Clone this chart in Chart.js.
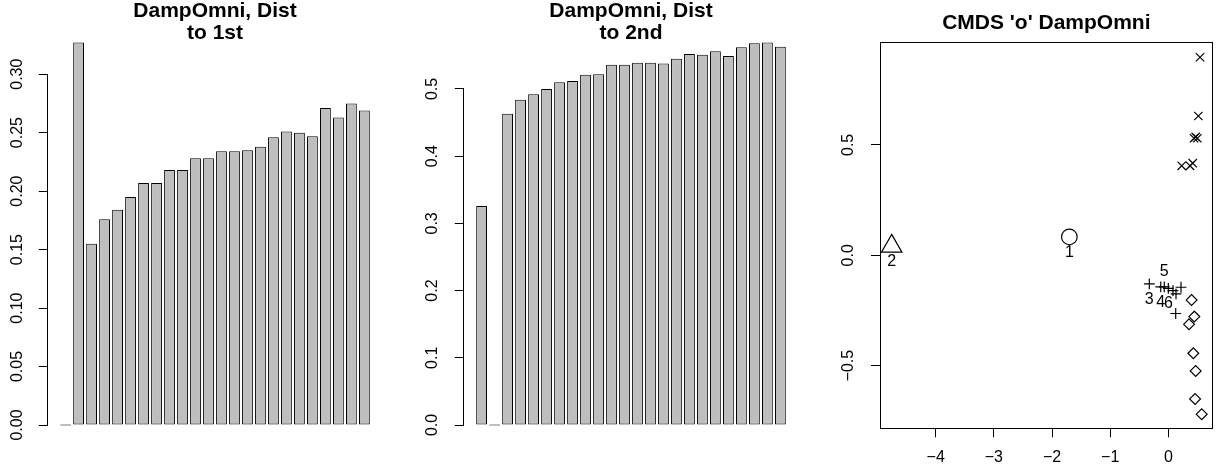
<!DOCTYPE html>
<html><head><meta charset="utf-8">
<script src="https://cdn.jsdelivr.net/npm/chart.js@4/dist/chart.umd.min.js"></script>
<style>
html,body{margin:0;padding:0;background:#fff;width:1217px;height:471px;overflow:hidden;}
canvas{position:absolute;top:0;}
</style></head><body>
<canvas id="c1" width="406" height="471" style="left:0px"></canvas>
<canvas id="c2" width="406" height="471" style="left:406px"></canvas>
<canvas id="c3" width="405" height="471" style="left:812px"></canvas>
<script>
const FONT = '"Liberation Sans", Arial, Helvetica, sans-serif';

// ---- titles ----
const title1 = ['DampOmni, Dist', 'to 1st'];
const title2 = ['DampOmni, Dist', 'to 2nd'];
const title3 = "CMDS 'o' DampOmni";

// ---- bar data ----
const distTo1st = [0, 0.327, 0.155, 0.176, 0.184, 0.195, 0.207, 0.207, 0.218, 0.218, 0.228, 0.228,
                   0.234, 0.234, 0.235, 0.238, 0.246, 0.251, 0.250, 0.247, 0.271, 0.263, 0.275, 0.269];
const distTo2nd = [0.326, 0, 0.463, 0.484, 0.492, 0.500, 0.510, 0.512, 0.521, 0.522, 0.536, 0.536,
                   0.539, 0.539, 0.538, 0.545, 0.552, 0.551, 0.556, 0.549, 0.562, 0.568, 0.569, 0.563];

// ---- tick values / labels ----
const ticks1 = [0, 0.05, 0.10, 0.15, 0.20, 0.25, 0.30];
const tickLabels1 = ['0.00', '0.05', '0.10', '0.15', '0.20', '0.25', '0.30'];
const ticks2 = [0, 0.1, 0.2, 0.3, 0.4, 0.5];
const tickLabels2 = ['0.0', '0.1', '0.2', '0.3', '0.4', '0.5'];
const cmdsXTicks = [-4, -3, -2, -1, 0];
const cmdsXTickLabels = ['\u22124', '\u22123', '\u22122', '\u22121', '0'];
const cmdsYTicks = [-0.5, 0, 0.5];
const cmdsYTickLabels = ['\u22120.5', '0.0', '0.5'];

// ---- CMDS scatter data ----
const cmdsX = [-1.702, -4.757, -0.327, -0.130, -0.070, 0.000, 0.080, 0.132, 0.218, 0.127,
               0.545, 0.516, 0.442, 0.470, 0.499, 0.230, 0.373, 0.420,
               0.400, 0.447, 0.356, 0.430, 0.470, 0.460, 0.574];
const cmdsY = [0.083, 0.041, -0.130, -0.143, -0.143, -0.150, -0.160, -0.175, -0.145, -0.264,
               0.897, 0.631, 0.530, 0.536, 0.530, 0.405, 0.405, 0.417,
               -0.203, -0.278, -0.313, -0.444, -0.524, -0.651, -0.720];
const cmdsGroup = [0, 1, 2, 2, 2, 2, 2, 2, 2, 2,
                   3, 3, 3, 3, 3, 3, 3, 3,
                   4, 4, 4, 4, 4, 4, 4];
const cmdsLabels = ['1', '2', '3', '4', '5', '6'];
const cmdsLabelPos = ['below', 'below', 'below', 'below', 'above', 'below'];

// ---- styles ----
const groupStyle = [
  {pointStyle: 'circle', radius: 7.8},
  {pointStyle: 'triangle', radius: 11.8},
  {pointStyle: 'cross', radius: 5.4},
  {pointStyle: 'crossRot', radius: 5.9},
  {pointStyle: 'rectRot', radius: 5.4}
];

function alignPx(p) { return Math.round(p - 0.5) + 0.5; }

const rAxesPlugin = {
  id: 'rAxes',
  afterDraw(chart, args, opts) {
    const ctx = chart.ctx, a = chart.chartArea;
    ctx.save();
    ctx.strokeStyle = '#000';
    ctx.lineWidth = 1;
    if (opts.mode === 'yline') {
      const ys = chart.scales.y, t = ys.ticks;
      const x = alignPx(a.left);
      ctx.beginPath();
      ctx.moveTo(x, alignPx(ys.getPixelForValue(t[0].value)) + 0.5);
      ctx.lineTo(x, alignPx(ys.getPixelForValue(t[t.length - 1].value)) - 0.5);
      ctx.stroke();
    } else if (opts.mode === 'box') {
      const l = alignPx(a.left), r = alignPx(a.right), t = alignPx(a.top), b = alignPx(a.bottom);
      ctx.strokeRect(l, t, r - l, b - t);
    }
    ctx.restore();
  }
};

const pointLabelPlugin = {
  id: 'pointLabels',
  afterDatasetsDraw(chart) {
    const ctx = chart.ctx, xs = chart.scales.x, ys = chart.scales.y;
    ctx.save();
    ctx.font = '16px ' + FONT;
    ctx.fillStyle = '#000';
    ctx.textAlign = 'center';
    ctx.textBaseline = 'middle';
    cmdsLabels.forEach((lab, i) => {
      const px = xs.getPixelForValue(cmdsX[i]);
      const py = ys.getPixelForValue(cmdsY[i]);
      const dy = cmdsLabelPos[i] === 'above' ? -15.5 : 15.5;
      ctx.fillText(lab, px, py + dy);
    });
    ctx.restore();
  }
};

function tickFont() { return {family: FONT, size: 16}; }
const titleFont = {family: FONT, size: 21, weight: 'bold', lineHeight: 22 / 21};

function barChart(canvasId, values, title, tickVals, tickLabels, yAxisWidth, rightPad, labelPad) {
  const n = values.length;
  const ext = 0.04 * (1.2 * n - 0.2);
  const xmin = (0.2 - ext - 0.7) / 1.2;
  const xmax = (1.2 * n + ext - 0.7) / 1.2;
  const vmax = Math.max(...values);
  return new Chart(document.getElementById(canvasId), {
    type: 'bar',
    data: {
      datasets: [{
        data: values.map((v, i) => ({x: i, y: v})),
        backgroundColor: '#BEBEBE',
        borderColor: '#000000',
        borderWidth: 1,
        borderSkipped: false,
        minBarLength: 1,
        barPercentage: 1 / 1.2,
        categoryPercentage: 1
      }]
    },
    options: {
      responsive: false,
      maintainAspectRatio: false,
      animation: false,
      events: [],
      devicePixelRatio: 1,
      layout: {autoPadding: false, padding: {left: 0, right: rightPad, top: 0, bottom: 30.7}},
      plugins: {
        legend: {display: false},
        tooltip: {enabled: false},
        title: {
          display: true, text: title, color: '#000', fullSize: false,
          font: titleFont,
          padding: {top: 0, bottom: -16.7}
        },
        rAxes: {mode: 'yline'}
      },
      scales: {
        x: {
          type: 'linear', display: false, offset: false, min: xmin, max: xmax, bounds: 'data',
          afterBuildTicks: s => { s.ticks = values.map((v, i) => ({value: i})); }
        },
        y: {
          type: 'linear', min: -0.04 * vmax, max: 1.04 * vmax, bounds: 'data',
          afterBuildTicks: s => { s.ticks = tickVals.map(v => ({value: v})); },
          afterFit: s => { s.width = yAxisWidth; s.paddingTop = 0; s.paddingBottom = 0; },
          border: {display: false},
          grid: {drawOnChartArea: false, drawTicks: true, tickLength: 9, color: '#000', tickColor: '#000', lineWidth: 1},
          ticks: {
            font: tickFont(), color: '#000', minRotation: 90, maxRotation: 90,
            crossAlign: 'center', padding: labelPad, autoSkip: false,
            callback: (v, i) => tickLabels[i]
          }
        }
      }
    },
    plugins: [rAxesPlugin]
  });
}

barChart('c1', distTo1st, title1, ticks1, tickLabels1, 47.8, 23.8, 5.9);
barChart('c2', distTo2nd, title2, ticks2, tickLabels2, 57.8, 13.8, 10.7);

// ---- scatter ----
const scatterSets = groupStyle.map((st, g) => ({
  data: cmdsX.map((x, i) => ({x: x, y: cmdsY[i], g: cmdsGroup[i]})).filter(p => p.g === g),
  pointStyle: st.pointStyle,
  pointRadius: st.radius,
  pointHoverRadius: st.radius,
  borderColor: '#000000',
  backgroundColor: 'rgba(0,0,0,0)',
  pointBorderWidth: 1.2,
  showLine: false,
  clip: false
}));

new Chart(document.getElementById('c3'), {
  type: 'scatter',
  data: {datasets: scatterSets},
  options: {
    responsive: false,
    maintainAspectRatio: false,
    animation: false,
    events: [],
    devicePixelRatio: 1,
    layout: {autoPadding: false, padding: {left: 0, right: 4.3, top: 0, bottom: 0}},
    plugins: {
      legend: {display: false},
      tooltip: {enabled: false},
      title: {
        display: true, text: title3, color: '#000', fullSize: false,
        font: titleFont,
        padding: {top: 12.3, bottom: 8.4}
      },
      rAxes: {mode: 'box'}
    },
    scales: {
      x: {
        type: 'linear', min: -4.958, max: 0.763, bounds: 'data',
        afterBuildTicks: s => { s.ticks = cmdsXTicks.map(v => ({value: v})); },
        afterFit: s => { s.height = 42.7; s.paddingLeft = 0; s.paddingRight = 0; },
        border: {display: false},
        grid: {drawOnChartArea: false, drawTicks: true, tickLength: 9, color: '#000', tickColor: '#000', lineWidth: 1},
        ticks: {font: tickFont(), color: '#000', padding: 10.6, maxRotation: 0, autoSkip: false,
                callback: (v, i) => cmdsXTickLabels[i]}
      },
      y: {
        type: 'linear', min: -0.784, max: 0.963, bounds: 'data',
        afterBuildTicks: s => { s.ticks = cmdsYTicks.map(v => ({value: v})); },
        afterFit: s => { s.width = 68; s.paddingTop = 0; s.paddingBottom = 0; },
        border: {display: false},
        grid: {drawOnChartArea: false, drawTicks: true, tickLength: 9, color: '#000', tickColor: '#000', lineWidth: 1},
        ticks: {font: tickFont(), color: '#000', minRotation: 90, maxRotation: 90,
                crossAlign: 'center', padding: 6.9, autoSkip: false,
                callback: (v, i) => cmdsYTickLabels[i]}
      }
    }
  },
  plugins: [rAxesPlugin, pointLabelPlugin]
});
</script>
</body></html>
